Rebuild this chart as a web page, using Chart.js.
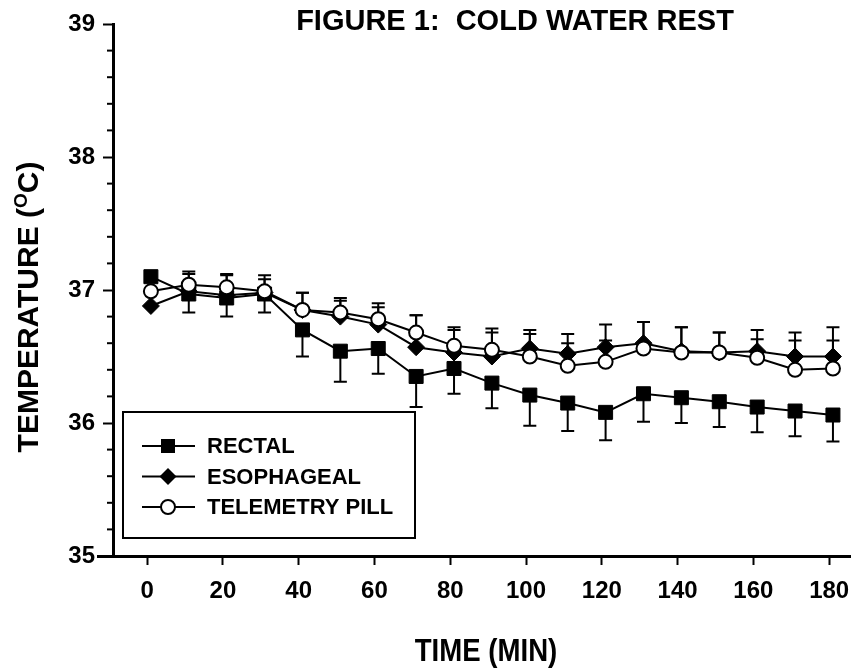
<!DOCTYPE html>
<html>
<head>
<meta charset="utf-8">
<title>Figure 1: Cold Water Rest</title>
<script src="https://cdn.jsdelivr.net/npm/chart.js@4.4.1/dist/chart.umd.min.js"></script>
<style>
    body { margin: 0; background: #fff; }
    #wrap { width: 862px; height: 672px; }
</style>
</head>
<body>
<div id="wrap"><canvas id="tempChart" width="862" height="672"></canvas></div>
<script>
// 時間 (分)
const times = [1, 11, 21, 31, 41, 51, 61, 71, 81, 91, 101, 111, 121, 131, 141, 151, 161, 171, 181];

// 体温 (°C)
const rectal = [37.10, 36.97, 36.94, 36.97, 36.70, 36.54, 36.56, 36.35, 36.41, 36.30, 36.21, 36.15, 36.08, 36.22, 36.19, 36.16, 36.12, 36.09, 36.06];
const esophageal = [36.88, 36.99, 36.96, 36.98, 36.85, 36.80, 36.74, 36.57, 36.53, 36.50, 36.56, 36.52, 36.57, 36.60, 36.54, 36.53, 36.54, 36.50, 36.50];
const pill = [36.99, 37.04, 37.02, 36.99, 36.85, 36.83, 36.78, 36.68, 36.58, 36.55, 36.50, 36.43, 36.46, 36.56, 36.53, 36.53, 36.49, 36.40, 36.41];

// 標準偏差 (直腸は下向き、他は上向き)
const rectalSD = [0, 0.14, 0.14, 0.14, 0.20, 0.23, 0.19, 0.23, 0.19, 0.19, 0.23, 0.21, 0.21, 0.21, 0.19, 0.19, 0.19, 0.19, 0.20];
const esophagealSD = [0, 0.13, 0.15, 0.10, 0.13, 0.12, 0.13, 0.24, 0.17, 0.18, 0.11, 0.15, 0.17, 0.16, 0.18, 0.15, 0.16, 0.18, 0.22];
const pillSD = [0, 0.10, 0.10, 0.12, 0.13, 0.11, 0.12, 0.13, 0.14, 0.16, 0.20, 0.17, 0.16, 0.20, 0.19, 0.15, 0.14, 0.22, 0.21];

const xTicks = [0, 20, 40, 60, 80, 100, 120, 140, 160, 180];
const yTicks = [35, 36, 37, 38, 39];
const yMinorTicks = [35.2, 35.4, 35.6, 35.8, 36.2, 36.4, 36.6, 36.8, 37.2, 37.4, 37.6, 37.8, 38.2, 38.4, 38.6, 38.8];

const FONT = '"Liberation Sans", Arial, sans-serif';

// エラーバー描画
const errorBars = {
    id: 'errorBars',
    beforeDatasetsDraw(chart) {
        const ctx = chart.ctx;
        const xs = chart.scales.x;
        const ys = chart.scales.y;
        ctx.save();
        ctx.strokeStyle = '#000';
        ctx.lineWidth = 2;
        chart.data.datasets.forEach(ds => {
            ds.data.forEach((p, i) => {
                const sd = ds.sd[i];
                if (!sd) return;
                const x = xs.getPixelForValue(p.x);
                const y0 = ys.getPixelForValue(p.y);
                const y1 = ys.getPixelForValue(p.y + ds.sdDir * sd);
                ctx.beginPath();
                ctx.moveTo(x, y0);
                ctx.lineTo(x, y1);
                ctx.moveTo(x - 6.5, y1);
                ctx.lineTo(x + 6.5, y1);
                ctx.stroke();
            });
        });
        ctx.restore();
    }
};

function drawMarker(ctx, style, x, y) {
    ctx.beginPath();
    if (style === 'rect') {
        ctx.rect(x - 7, y - 7, 14, 14);
        ctx.fillStyle = '#000';
        ctx.fill();
    } else if (style === 'rectRot') {
        ctx.moveTo(x, y - 8.5);
        ctx.lineTo(x + 8.5, y);
        ctx.lineTo(x, y + 8.5);
        ctx.lineTo(x - 8.5, y);
        ctx.closePath();
        ctx.fillStyle = '#000';
        ctx.fill();
    } else {
        ctx.arc(x, y, 7, 0, Math.PI * 2);
        ctx.fillStyle = '#fff';
        ctx.fill();
        ctx.lineWidth = 2;
        ctx.stroke();
    }
}

// タイトル・軸ラベル・凡例・小目盛り
const decorations = {
    id: 'decorations',
    afterDraw(chart) {
        const ctx = chart.ctx;
        const area = chart.chartArea;
        const ys = chart.scales.y;
        ctx.save();
        ctx.fillStyle = '#000';
        ctx.strokeStyle = '#000';

        // x軸をy軸の左まで延長
        ctx.lineWidth = 3;
        ctx.beginPath();
        ctx.moveTo(97, area.bottom + 0.5);
        ctx.lineTo(area.left, area.bottom + 0.5);
        ctx.stroke();

        // y軸の小目盛り
        ctx.lineWidth = 2;
        yMinorTicks.forEach(v => {
            const y = ys.getPixelForValue(v);
            ctx.beginPath();
            ctx.moveTo(area.left - 6, y);
            ctx.lineTo(area.left, y);
            ctx.stroke();
        });

        // タイトル
        ctx.font = 'bold 29px ' + FONT;
        ctx.textAlign = 'center';
        ctx.textBaseline = 'middle';
        ctx.fillText('FIGURE 1:  COLD WATER REST', 515, 22);

        // x軸タイトル (やや縦長の書体)
        ctx.save();
        ctx.translate(486, 652);
        ctx.scale(0.92, 1.05);
        ctx.font = 'bold 30px ' + FONT;
        ctx.fillText('TIME (MIN)', 0, 0);
        ctx.restore();

        // y軸タイトル (上付きO)
        ctx.translate(30, 307);
        ctx.rotate(-Math.PI / 2);
        const big = 'bold 30px ' + FONT;
        const small = 'bold 19px ' + FONT;
        ctx.font = big;
        const w1 = ctx.measureText('TEMPERATURE (').width;
        const w3 = ctx.measureText('C)').width;
        ctx.font = small;
        const w2 = ctx.measureText('O').width;
        let x = -(w1 + w2 + w3) / 2;
        ctx.textAlign = 'left';
        ctx.font = big;
        ctx.fillText('TEMPERATURE (', x, 0);
        x += w1;
        ctx.font = small;
        ctx.fillText('O', x, -8);
        x += w2;
        ctx.font = big;
        ctx.fillText('C)', x, 0);
        ctx.setTransform(1, 0, 0, 1, 0, 0);

        // 凡例
        const lx = 123, ly = 412, lw = 292, lh = 126;
        ctx.lineWidth = 2;
        ctx.strokeRect(lx, ly, lw, lh);
        ctx.font = 'bold 22px ' + FONT;
        ctx.textAlign = 'left';
        ctx.textBaseline = 'middle';
        chart.data.datasets.forEach((ds, i) => {
            const y = 446 + i * 30.5;
            ctx.lineWidth = 2;
            ctx.beginPath();
            ctx.moveTo(142, y);
            ctx.lineTo(195, y);
            ctx.stroke();
            drawMarker(ctx, ds.pointStyle, 168, y);
            ctx.fillStyle = '#000';
            ctx.fillText(ds.label, 207, y + 1);
        });
        ctx.restore();
    }
};

function toPoints(values) {
    return values.map((v, i) => ({x: times[i], y: v}));
}

const ctx = document.getElementById('tempChart').getContext('2d');

new Chart(ctx, {
    type: 'line',
    data: {
        datasets: [
            {
                label: 'RECTAL',
                data: toPoints(rectal),
                sd: rectalSD,
                sdDir: -1,
                borderColor: '#000',
                borderWidth: 2,
                pointStyle: 'rect',
                pointRadius: 9.9,
                pointBackgroundColor: '#000',
                pointBorderColor: '#000',
                pointBorderWidth: 1,
                order: 2
            },
            {
                label: 'ESOPHAGEAL',
                data: toPoints(esophageal),
                sd: esophagealSD,
                sdDir: 1,
                borderColor: '#000',
                borderWidth: 2,
                pointStyle: 'rectRot',
                pointRadius: 8.5,
                pointBackgroundColor: '#000',
                pointBorderColor: '#000',
                pointBorderWidth: 1,
                order: 1
            },
            {
                label: 'TELEMETRY PILL',
                data: toPoints(pill),
                sd: pillSD,
                sdDir: 1,
                borderColor: '#000',
                borderWidth: 2,
                pointStyle: 'circle',
                pointRadius: 7,
                pointBackgroundColor: '#fff',
                pointBorderColor: '#000',
                pointBorderWidth: 2,
                order: 0
            }
        ]
    },
    options: {
        responsive: false,
        animation: false,
        devicePixelRatio: 1,
        layout: {
            padding: {top: 24, right: 12, left: 0, bottom: 0}
        },
        plugins: {
            legend: {display: false},
            tooltip: {enabled: false}
        },
        scales: {
            x: {
                type: 'linear',
                min: -9,
                max: 185.5,
                afterBuildTicks: s => { s.ticks = xTicks.map(v => ({value: v})); },
                afterFit: s => { s.height = 116; },
                grid: {
                    drawOnChartArea: false,
                    drawTicks: true,
                    tickLength: 9,
                    tickWidth: 2,
                    tickColor: '#000'
                },
                border: {color: '#000', width: 3},
                ticks: {
                    color: '#000',
                    padding: 12,
                    maxRotation: 0,
                    font: {family: FONT, size: 24, weight: 'bold'}
                }
            },
            y: {
                min: 35,
                max: 39,
                afterBuildTicks: s => { s.ticks = yTicks.map(v => ({value: v})); },
                afterFit: s => { s.width = 113; },
                grid: {
                    drawOnChartArea: false,
                    drawTicks: true,
                    tickLength: 10,
                    tickWidth: 2,
                    tickColor: '#000'
                },
                border: {color: '#000', width: 3},
                ticks: {
                    color: '#000',
                    padding: 8,
                    font: {family: FONT, size: 24, weight: 'bold'}
                }
            }
        }
    },
    plugins: [errorBars, decorations]
});
</script>
</body>
</html>
